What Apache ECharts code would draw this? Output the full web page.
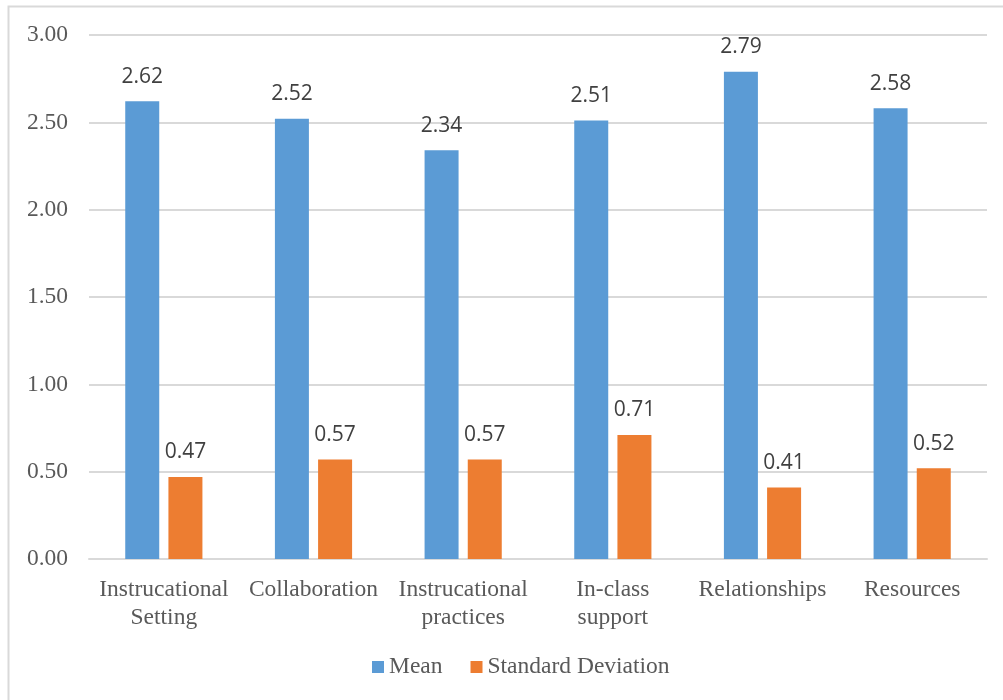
<!DOCTYPE html>
<html>
<head>
<meta charset="utf-8">
<script src="https://cdn.jsdelivr.net/npm/echarts@6/dist/echarts.min.js"></script>
<style>
  html, body { margin: 0; padding: 0; background: #fff; }
  #chart { width: 1003px; height: 700px; }
</style>
</head>
<body>
<div id="chart"></div>
<script>
const categories = ['Instrucational\nSetting', 'Collaboration', 'Instrucational\npractices', 'In-class\nsupport', 'Relationships', 'Resources'];
const meanValues = [2.62, 2.52, 2.34, 2.51, 2.79, 2.58];
const sdValues = [0.47, 0.57, 0.57, 0.71, 0.41, 0.52];
const seriesNames = ['Mean', 'Standard Deviation'];

const chart = echarts.init(document.getElementById('chart'));

const barLabel = {
  show: true,
  position: 'top',
  distance: 14,
  color: '#404040',
  fontFamily: 'Open Sans',
  fontSize: 21,
  formatter: (p) => p.value.toFixed(2)
};

chart.setOption({
  animation: false,
  graphic: [{
    type: 'rect',
    shape: { x: 8.5, y: 6.5, width: 1010, height: 710 },
    style: { fill: 'none', stroke: '#d9d9d9', lineWidth: 2 },
    silent: true
  }],
  grid: { left: 89, right: 16, top: 35, bottom: 141 },
  legend: {
    bottom: 16,
    left: 367,
    itemWidth: 12,
    itemHeight: 12,
    itemGap: 28,
    icon: 'rect',
    textStyle: { fontFamily: 'Liberation Serif', fontSize: 23.5, color: '#595959' },
    data: seriesNames
  },
  xAxis: {
    type: 'category',
    data: categories,
    axisLine: { lineStyle: { color: '#d9d9d9', width: 2 } },
    axisTick: { show: false },
    axisLabel: {
      interval: 0,
      margin: 17,
      color: '#595959',
      fontFamily: 'Liberation Serif',
      fontSize: 23.5,
      lineHeight: 28
    }
  },
  yAxis: {
    type: 'value',
    min: 0,
    max: 3,
    interval: 0.5,
    axisLine: { show: false },
    axisTick: { show: false },
    splitLine: { lineStyle: { color: '#d9d9d9', width: 2 } },
    axisLabel: {
      margin: 21,
      color: '#595959',
      fontFamily: 'Liberation Serif',
      fontSize: 23.5,
      formatter: (v) => v.toFixed(2)
    }
  },
  series: [
    {
      name: seriesNames[0],
      type: 'bar',
      data: meanValues,
      barWidth: 34,
      barGap: '27%',
      itemStyle: { color: '#5b9bd5' },
      label: barLabel
    },
    {
      name: seriesNames[1],
      type: 'bar',
      data: sdValues,
      barWidth: 34,
      itemStyle: { color: '#ed7d31' },
      label: barLabel
    }
  ]
});
</script>
</body>
</html>
